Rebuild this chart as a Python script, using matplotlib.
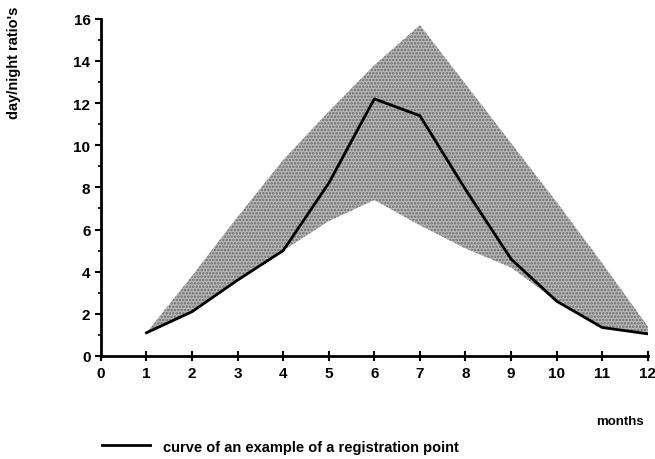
import matplotlib
matplotlib.use("Agg")
import matplotlib.pyplot as plt

plt.rcParams['font.family'] = ['Liberation Sans', 'DejaVu Sans']
plt.rcParams['font.weight'] = 'bold'
plt.rcParams['hatch.linewidth'] = 1.2

months = [1, 2, 3, 4, 5, 6, 7, 8, 9, 10, 11, 12]
# band of day/night ratio's (upper and lower edge of the shaded area)
band_upper = [1.1, 3.8, 6.6, 9.3, 11.6, 13.8, 15.7, 12.9, 10.1, 7.3, 4.4, 1.4]
band_lower = [1.1, 2.1, 3.6, 5.0, 6.4, 7.4, 6.2, 5.1, 4.2, 2.6, 1.35, 1.05]
# curve of an example of a registration point
example = [1.1, 2.1, 3.6, 5.0, 8.2, 12.2, 11.4, 7.9, 4.6, 2.6, 1.35, 1.05]

xticks = list(range(0, 13))
yticks = list(range(0, 17, 2))

fig = plt.figure(figsize=(6.55, 4.6), dpi=100)
ax = fig.add_axes([0.154, 0.224, 0.835, 0.733])

ax.fill_between(months, band_lower, band_upper, facecolor='#b8b8b8',
                edgecolor='#6a6a6a', hatch='.....', linewidth=0)
ax.plot(months, example, color='black', lw=2,
        label='curve of an example of a registration point')

ax.set_xlim(0, 12)
ax.set_ylim(0, 16)
ax.set_xticks(xticks)
ax.set_yticks(yticks)
ax.set_yticks(range(1, 16, 2), minor=True)
ax.spines['top'].set_visible(False)
ax.spines['right'].set_visible(False)
ax.spines['left'].set_linewidth(2)
ax.spines['bottom'].set_linewidth(2)
ax.tick_params(axis='x', direction='inout', length=7, width=1.5, labelsize=11, pad=4)
ax.tick_params(axis='y', direction='out', length=4, width=1.5, labelsize=11)
ax.tick_params(axis='y', which='minor', direction='out', length=2.5, width=1.2)

fig.text(0.022, 0.985, "day/night ratio's", rotation=90, va='top', ha='center', fontsize=10.5)
fig.text(0.947, 0.083, 'months', ha='center', va='center', fontsize=9.5)
fig.legend(loc='center left', bbox_to_anchor=(0.135, 0.027), frameon=False,
           handlelength=3.3, handletextpad=0.9, fontsize=10.5)

fig.savefig('out.png', dpi=100)
